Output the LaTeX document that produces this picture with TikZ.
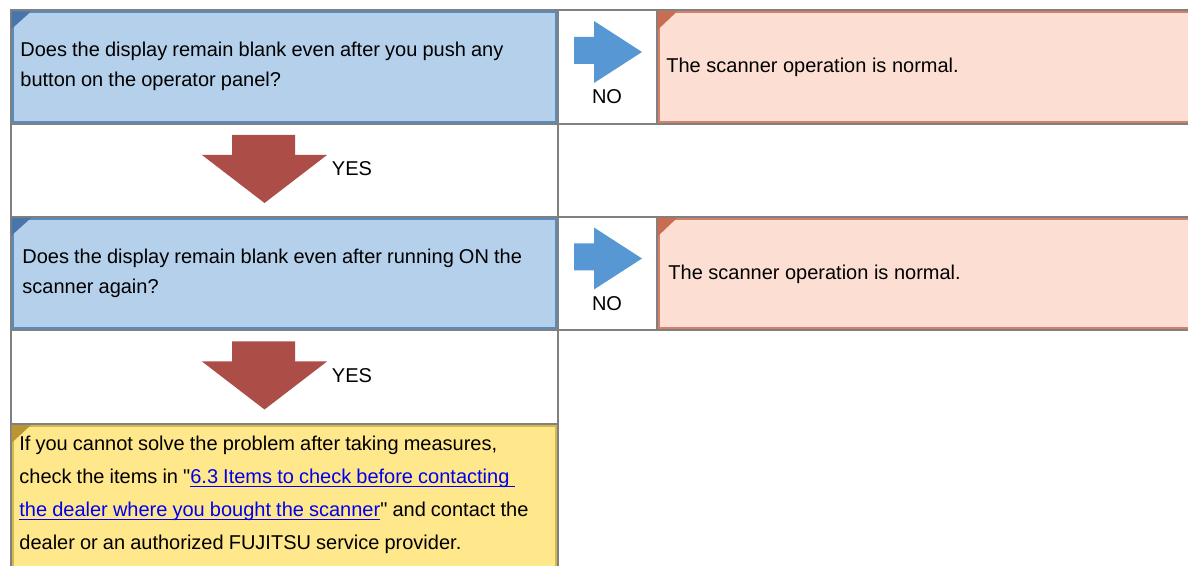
\documentclass[tikz,border=0pt]{standalone}
\usepackage{xcolor}
\usepackage{fontspec}
\setmainfont{Liberation Sans}
\usetikzlibrary{positioning, calc}
\definecolor{qgrid}{RGB}{128, 128, 128}
\definecolor{qblue}{RGB}{181, 208, 234}
\definecolor{qblueline}{RGB}{88, 140, 188}
\definecolor{qbluedark}{RGB}{72, 118, 170}
\definecolor{qpink}{RGB}{252, 223, 210}
\definecolor{qpinkline}{RGB}{212, 128, 104}
\definecolor{qpinkdark}{RGB}{200, 108, 82}
\definecolor{qyellow}{RGB}{255, 231, 139}
\definecolor{qyellowline}{RGB}{214, 184, 72}
\definecolor{qyellowdark}{RGB}{184, 150, 51}
\definecolor{qarrow}{RGB}{86, 151, 212}
\definecolor{qred}{RGB}{173, 77, 71}
\definecolor{qlink}{RGB}{0, 0, 238}
\newcommand{\qlink}[1]{\textcolor{qlink}{\setbox0\hbox{#1}\rlap{\rule[-1.8pt]{\wd0}{0.5pt}}\box0}}

\begin{document}
\begin{tikzpicture}[x=0.5pt, y=-0.5pt, font=\fontsize{10}{15}\selectfont,
    grid/.style={draw=qgrid, line width=1pt},
    bluecell/.style={fill=qblue, draw=qblueline, line width=1pt},
    pinkcell/.style={fill=qpink, draw=qpinkline, line width=1pt},
    yellowcell/.style={fill=qyellow, draw=qyellowline, line width=1pt},
    qtext/.style={anchor=base west, inner sep=0pt, text width=275pt, align=left,
        execute at begin node={\spaceskip=0.92\fontdimen2\font}},
    tag/.style={anchor=base, inner sep=0pt},
    answer/.style={anchor=base west, inner sep=0pt}]
    \path[use as bounding box, clip] (0,0) rectangle (1188,566);

    % Question rows with NO / YES arrows
    \foreach \r/\dy/\tx/\ax/\question in {
        1/0/20/666/{Does the display remain blank even after you push any\\button on the operator panel?},
        2/206.5/22/668/{Does the display remain blank even after running ON the\\scanner again?}} {
        \begin{scope}[shift={(0,\dy)}]
            % question
            \draw[grid] (10.5,10.5) rectangle (557.5,124);
            \draw[bluecell] (12.5,12.5) rectangle (555.5,122);
            \fill[qbluedark] (11.5,11.5) -- (31,11.5) -- (11.5,29) -- cycle;
            \node[qtext] (q\r) at (\tx,57) {\question};
            % NO arrow
            \draw[grid] (557.5,10.5) rectangle (656.5,124);
            \fill[qarrow] (574,37) -- (594,37) -- (594,21) -- (642,52)
                -- (594,83) -- (594,64) -- (574,64) -- cycle;
            \node[tag] (no\r) at (607,104) {NO};
            % answer
            \draw[grid] (656.5,10.5) rectangle (1200,124);
            \draw[pinkcell] (658.5,12.5) rectangle (1200,122);
            \fill[qpinkdark] (657.5,11.5) -- (677,11.5) -- (657.5,30) -- cycle;
            \node[answer] (ok\r) at (\ax,73) {The scanner operation is normal.};
            % YES arrow
            \draw[grid] (10.5,124) rectangle (557.5,217.5);
            \fill[qred] (232,135) -- (295,135) -- (295,155) -- (327,155)
                -- (264.5,203) -- (202,155) -- (232,155) -- cycle;
            \node[tag] (yes\r) at (352,176) {YES};
        \end{scope}
    }

    % Last step
    \draw[grid] (10.5,424) rectangle (557.5,600);
    \draw[yellowcell] (12.5,426) rectangle (555.5,600);
    \fill[qyellowdark] (11.5,425) -- (31,425) -- (11.5,443) -- cycle;
    \node[qtext, font=\fontsize{10}{16.5}\selectfont] (help) at (19,450.5)
        {If you cannot solve the problem after taking measures,\\
         check the items in \textquotedbl\qlink{6.3 Items to check before contacting\ }\\
         \qlink{the dealer where you bought the scanner}\textquotedbl{} and contact the\\
         dealer or an authorized FUJITSU service provider.};
\end{tikzpicture}
\end{document}
